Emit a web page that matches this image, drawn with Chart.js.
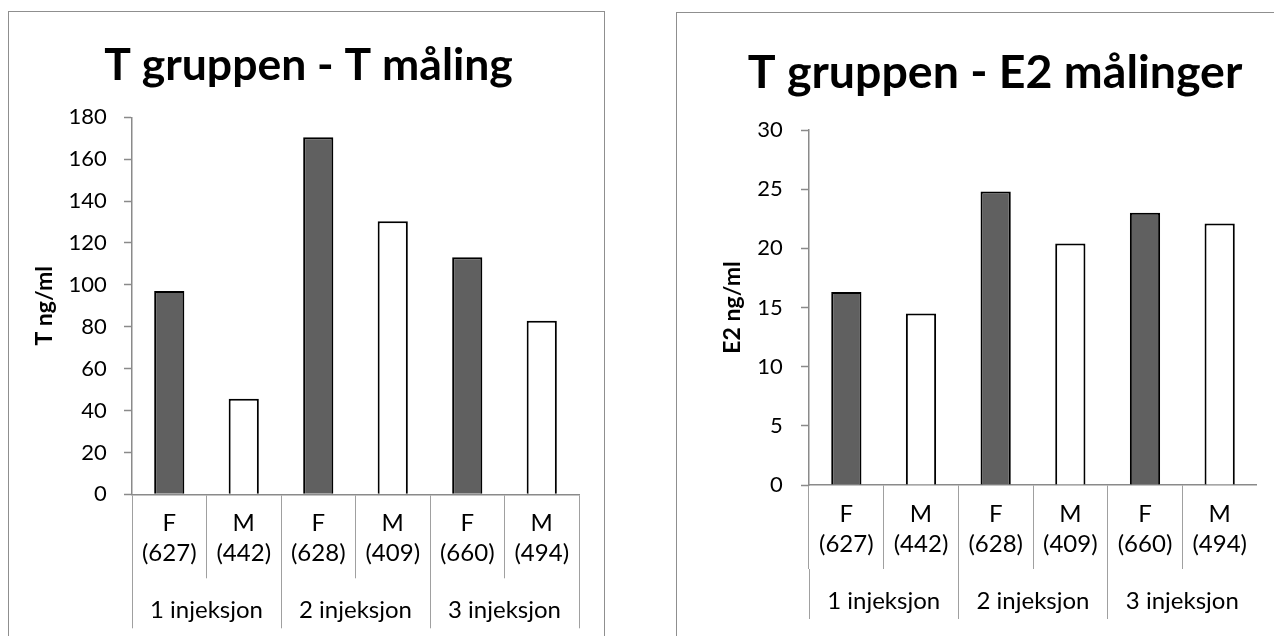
<!DOCTYPE html>
<html>
<head>
<meta charset="utf-8">
<script src="https://cdn.jsdelivr.net/npm/chart.js@4.4.1/dist/chart.umd.min.js"></script>
<style>
  html, body { margin: 0; padding: 0; background: #fff; overflow: hidden; width: 1274px; height: 636px; }
  .panel { position: absolute; border: 1px solid #8f8f8f; box-sizing: border-box; }
  canvas { position: absolute; }
</style>
</head>
<body>
<div class="panel" style="left:8px; top:11px; width:597px; height:700px;"></div>
<div class="panel" style="left:676px; top:12px; width:700px; height:700px;"></div>
<canvas id="tChart" width="594" height="624" style="left:9px; top:12px;"></canvas>
<canvas id="e2Chart" width="580" height="623" style="left:677px; top:13px;"></canvas>
<script>
// Categories: sex and number of samples, grouped by injection count
const sexes = ['F', 'M', 'F', 'M', 'F', 'M'];
const sampleSizes = ['(627)', '(442)', '(628)', '(409)', '(660)', '(494)'];
const injections = ['1 injeksjon', '2 injeksjon', '3 injeksjon'];

// Mean concentrations (ng/ml)
const tValues = [97.1, 45.6, 170.5, 130.4, 113.2, 82.9];
const e2Values = [16.3, 14.5, 24.8, 20.4, 23.0, 22.1];

// Value axis ranges
const tAxisMax = 180, tAxisStep = 20;
const e2AxisMax = 30, e2AxisStep = 5;

const DARK = '#606060';
const LIGHT = '#ffffff';
const AXIS = '#8a8a8a';
const GRID = '#a0a0a0';

Chart.defaults.font.family = "Lato, 'Open Sans', sans-serif";
Chart.defaults.color = '#000';

const categoryLabels = sexes.map((s, i) => [s, sampleSizes[i]]);

function buildChart(canvasId, o) {
  return new Chart(document.getElementById(canvasId), {
    type: 'bar',
    data: {
      labels: categoryLabels,
      datasets: [{
        data: o.values,
        backgroundColor: sexes.map(s => (s === 'F' ? DARK : LIGHT)),
        borderColor: '#000',
        borderWidth: 2,
        borderSkipped: 'start',
        barPercentage: 0.405,
        categoryPercentage: 1
      }]
    },
    options: {
      responsive: false,
      animation: false,
      devicePixelRatio: 1,
      layout: { padding: { left: o.padL, right: o.padR, top: 0, bottom: 0 } },
      plugins: {
        legend: { display: false },
        tooltip: { enabled: false },
        title: {
          display: true,
          text: o.title,
          color: '#000',
          font: { size: o.titleSize, weight: 'bold', lineHeight: 1.2 },
          padding: { top: o.titleTop, bottom: o.titleBottom }
        }
      },
      scales: {
        x: {
          type: 'category',
          position: 'bottom',
          offset: true,
          grid: { offset: true, drawOnChartArea: false, drawTicks: true, tickLength: 84, tickColor: GRID, tickWidth: 1 },
          border: { display: true, color: AXIS, width: 1.5 },
          ticks: { font: { size: 24, lineHeight: 30 / 24 }, padding: -70, maxRotation: 0, minRotation: 0, autoSkip: false, color: '#000' },
          afterFit: s => { s.height = 84; }
        },
        x2: {
          type: 'category',
          position: 'bottom',
          labels: injections,
          offset: true,
          grid: { offset: true, drawOnChartArea: false, drawTicks: true, tickLength: 50, tickColor: GRID, tickWidth: 1 },
          border: { display: false },
          ticks: { font: { size: 24, lineHeight: 30 / 24 }, padding: -33, maxRotation: 0, minRotation: 0, autoSkip: false, color: '#000' },
          afterFit: s => { s.height = o.groupHeight; }
        },
        y: {
          min: 0,
          max: o.max,
          ticks: { stepSize: o.step, font: { size: 22 }, padding: o.tickPad, color: '#000' },
          grid: { drawOnChartArea: false, drawTicks: true, tickLength: 8, tickColor: AXIS, tickWidth: 1.5 },
          border: { display: true, color: AXIS, width: 1.5 },
          title: {
            display: true,
            text: o.yTitle,
            color: '#000',
            font: { size: 23, weight: 'bold', lineHeight: 1.2 },
            padding: { top: o.yTitlePad, bottom: 0 }
          },
          afterFit: s => { s.width = o.yWidth; }
        }
      }
    }
  });
}

buildChart('tChart', {
  values: tValues,
  title: 'T gruppen - T måling',
  titleSize: 44.5,
  yTitle: 'T ng/ml',
  max: tAxisMax, step: tAxisStep,
  padL: 29, padR: 24, yWidth: 94,
  titleTop: 26.8, titleBottom: 25.1,
  groupHeight: 57.7,
  tickPad: 17.3,
  yTitlePad: -6.8
});

buildChart('e2Chart', {
  values: e2Values,
  title: 'T gruppen - E2 målinger',
  titleSize: 46.5,
  yTitle: 'E2 ng/ml',
  max: e2AxisMax, step: e2AxisStep,
  padL: 56, padR: 0, yWidth: 76,
  titleTop: 32.1, titleBottom: 29.1,
  groupHeight: 67,
  tickPad: 18.3,
  yTitlePad: -13.8
});
</script>
</body>
</html>
